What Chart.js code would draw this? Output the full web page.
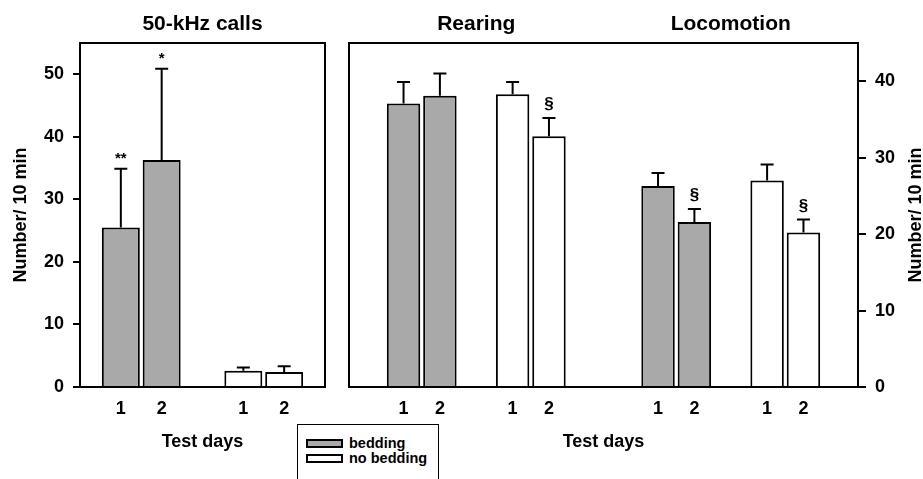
<!DOCTYPE html>
<html>
<head>
<meta charset="utf-8">
<script src="https://cdn.jsdelivr.net/npm/chart.js@4"></script>
<style>
  body { margin: 0; background: #fff; }
  #wrap { position: relative; width: 923px; height: 479px; overflow: hidden; font-family: 'Liberation Sans', Arial, sans-serif; }
  #calls { position: absolute; left: 0; top: 0; }
  #behav { position: absolute; left: 340px; top: 0; }
  #legend { position: absolute; left: 297px; top: 424px; width: 142px; height: 80px; border: 1.5px solid #000; box-sizing: border-box; background: #fff; font-weight: bold; font-size: 14.5px; }
  #legend .row { position: absolute; left: 8px; height: 16px; line-height: 16px; white-space: nowrap; }
  #legend .sw { display: inline-block; width: 37px; height: 9px; border: 2px solid #000; box-sizing: border-box; vertical-align: middle; margin-right: 6px; position: relative; top: -1px; }
</style>
</head>
<body>
<div id="wrap">
  <canvas id="calls" width="340" height="479"></canvas>
  <canvas id="behav" width="583" height="479"></canvas>
  <div id="legend">
    <div class="row" style="top:10px"><span class="sw" style="background:#a9a9a9"></span>bedding</div>
    <div class="row" style="top:25px"><span class="sw" style="background:#fff"></span>no bedding</div>
  </div>
</div>
<script>
// values (means and error bar heights)
const days = ['1', '2'];

const callsBedding = [25.5, 36.3];
const callsBeddingErr = [9.4, 14.6];
const callsBeddingMarks = ['**', '*'];
const callsNoBedding = [2.6, 2.4];
const callsNoBeddingErr = [0.5, 0.9];
const callsNoBeddingMarks = ['', ''];

const rearingBedding = [37.1, 38.1];
const rearingBeddingErr = [2.8, 2.9];
const rearingBeddingMarks = ['', ''];
const rearingNoBedding = [38.3, 32.8];
const rearingNoBeddingErr = [1.6, 2.4];
const rearingNoBeddingMarks = ['', '§'];

const locoBedding = [26.3, 21.6];
const locoBeddingErr = [1.7, 1.7];
const locoBeddingMarks = ['', '§'];
const locoNoBedding = [27.0, 20.2];
const locoNoBeddingErr = [2.1, 1.7];
const locoNoBeddingMarks = ['', '§'];

const callsTicks = [0, 10, 20, 30, 40, 50];
const behavTicks = [0, 10, 20, 30, 40];

const GREY = '#a9a9a9';
const FONT = "'Liberation Sans', Arial, sans-serif";

// category slots, blanks are the gaps between groups
const callsLabels = ['', ...days, '', ...days, ''];
const behavLabels = ['', ...days, '', ...days, '', '', ...days, '', ...days, ''];

function place(n, groups) {
    const out = new Array(n).fill(null);
    groups.forEach(([at, vals]) => vals.forEach((v, i) => out[at + i] = v));
    return out;
}

function barSet(label, color, n, groups) {
    return {
        label: label,
        data: place(n, groups.map(g => [g[0], g[1]])),
        err: place(n, groups.map(g => [g[0], g[2]])),
        marks: place(n, groups.map(g => [g[0], g[3]])),
        backgroundColor: color,
        borderColor: '#000',
        borderWidth: 2,
        grouped: false,
        categoryPercentage: 1,
    };
}

const errorBars = {
    id: 'errorBars',
    afterDatasetsDraw(chart) {
        const ctx = chart.ctx;
        const y = chart.scales.y;
        chart.data.datasets.forEach((ds, di) => {
            chart.getDatasetMeta(di).data.forEach((bar, i) => {
                const v = ds.data[i];
                if (v == null) return;
                const top = y.getPixelForValue(v + ds.err[i]);
                ctx.save();
                ctx.strokeStyle = '#000';
                ctx.lineWidth = 2;
                ctx.beginPath();
                ctx.moveTo(bar.x, bar.y);
                ctx.lineTo(bar.x, top);
                ctx.moveTo(bar.x - 6.5, top);
                ctx.lineTo(bar.x + 6.5, top);
                ctx.stroke();
                const m = ds.marks[i];
                if (m) {
                    ctx.fillStyle = '#000';
                    ctx.textAlign = 'center';
                    ctx.textBaseline = 'bottom';
                    if (m === '§') {
                        ctx.font = 'bold 17px ' + FONT;
                        ctx.fillText(m, bar.x, top - 5);
                    } else {
                        ctx.font = 'bold 15px ' + FONT;
                        ctx.fillText(m, bar.x, top - 2);
                    }
                }
                ctx.restore();
            });
        });
    }
};

// box round the plot area, panel titles, right side axis title
const frame = {
    id: 'frame',
    afterDraw(chart, args, opts) {
        const ctx = chart.ctx;
        const a = chart.chartArea;
        const x = chart.scales.x;
        ctx.save();
        ctx.strokeStyle = '#000';
        ctx.lineWidth = 2;
        ctx.strokeRect(a.left, a.top, a.right - a.left, a.bottom - a.top);
        ctx.fillStyle = '#000';
        ctx.font = 'bold 21px ' + FONT;
        ctx.textAlign = 'center';
        ctx.textBaseline = 'middle';
        (opts.titles || []).forEach(t => {
            const cx = (x.getPixelForValue(t.from) + x.getPixelForValue(t.to)) / 2;
            ctx.fillText(t.text, cx, 24);
        });
        if (opts.sideTitle) {
            const s = chart.scales.y;
            ctx.font = 'bold 18px ' + FONT;
            ctx.translate(s.right - 7, (a.top + a.bottom) / 2);
            ctx.rotate(-Math.PI / 2);
            ctx.fillText(opts.sideTitle, 0, 0);
        }
        ctx.restore();
    }
};

Chart.defaults.font.family = FONT;
Chart.defaults.font.weight = 'bold';
Chart.defaults.color = '#000';

new Chart(document.getElementById('calls'), {
    type: 'bar',
    data: {
        labels: callsLabels,
        datasets: [
            barSet('bedding', GREY, callsLabels.length, [[1, callsBedding, callsBeddingErr, callsBeddingMarks]]),
            barSet('no bedding', '#fff', callsLabels.length, [[4, callsNoBedding, callsNoBeddingErr, callsNoBeddingMarks]])
        ]
    },
    options: {
        responsive: false,
        animation: false,
        devicePixelRatio: 1,
        barPercentage: 0.93,
        layout: { padding: { top: 43, right: 15, left: 0, bottom: 0 } },
        plugins: {
            legend: { display: false },
            tooltip: { enabled: false },
            frame: { titles: [{ text: '50-kHz calls', from: 0, to: 6 }] }
        },
        scales: {
            x: {
                offset: false,
                grid: { display: false, drawTicks: false },
                border: { display: true, color: '#000', width: 2 },
                ticks: { font: { size: 18 }, padding: 11, maxRotation: 0, autoSkip: false },
                title: { display: true, text: 'Test days', font: { size: 18 }, padding: { bottom: 26 } },
                afterFit: s => { s.height = 92; }
            },
            y: {
                min: 0,
                max: 55,
                afterBuildTicks: s => { s.ticks = callsTicks.map(v => ({ value: v })); },
                grid: { drawOnChartArea: false, drawTicks: true, tickLength: 7, color: '#000', lineWidth: 2 },
                border: { display: true, color: '#000', width: 2 },
                ticks: { font: { size: 18 }, padding: 9 },
                title: { display: true, text: 'Number/ 10 min', font: { size: 18 }, padding: { top: 10 } },
                afterFit: s => { s.width = 80; }
            }
        }
    },
    plugins: [errorBars, frame]
});

new Chart(document.getElementById('behav'), {
    type: 'bar',
    data: {
        labels: behavLabels,
        datasets: [
            barSet('bedding', GREY, behavLabels.length, [
                [1, rearingBedding, rearingBeddingErr, rearingBeddingMarks],
                [8, locoBedding, locoBeddingErr, locoBeddingMarks]
            ]),
            barSet('no bedding', '#fff', behavLabels.length, [
                [4, rearingNoBedding, rearingNoBeddingErr, rearingNoBeddingMarks],
                [11, locoNoBedding, locoNoBeddingErr, locoNoBeddingMarks]
            ])
        ]
    },
    options: {
        responsive: false,
        animation: false,
        devicePixelRatio: 1,
        barPercentage: 0.92,
        layout: { padding: { top: 43, right: 0, left: 9, bottom: 0 } },
        plugins: {
            legend: { display: false },
            tooltip: { enabled: false },
            frame: {
                titles: [
                    { text: 'Rearing', from: 1, to: 5 },
                    { text: 'Locomotion', from: 8, to: 12 }
                ],
                sideTitle: 'Number/ 10 min'
            }
        },
        scales: {
            x: {
                offset: true,
                grid: { display: false, drawTicks: false },
                border: { display: true, color: '#000', width: 2 },
                ticks: { font: { size: 18 }, padding: 11, maxRotation: 0, autoSkip: false },
                title: { display: true, text: 'Test days', font: { size: 18 }, padding: { bottom: 26 } },
                afterFit: s => { s.height = 92; }
            },
            y: {
                position: 'right',
                min: 0,
                max: 45,
                afterBuildTicks: s => { s.ticks = behavTicks.map(v => ({ value: v })); },
                grid: { drawOnChartArea: false, drawTicks: true, tickLength: 8, color: '#000', lineWidth: 2 },
                border: { display: true, color: '#000', width: 2 },
                ticks: { font: { size: 18 }, padding: 9 },
                afterFit: s => { s.width = 65; }
            }
        }
    },
    plugins: [errorBars, frame]
});
</script>
</body>
</html>
